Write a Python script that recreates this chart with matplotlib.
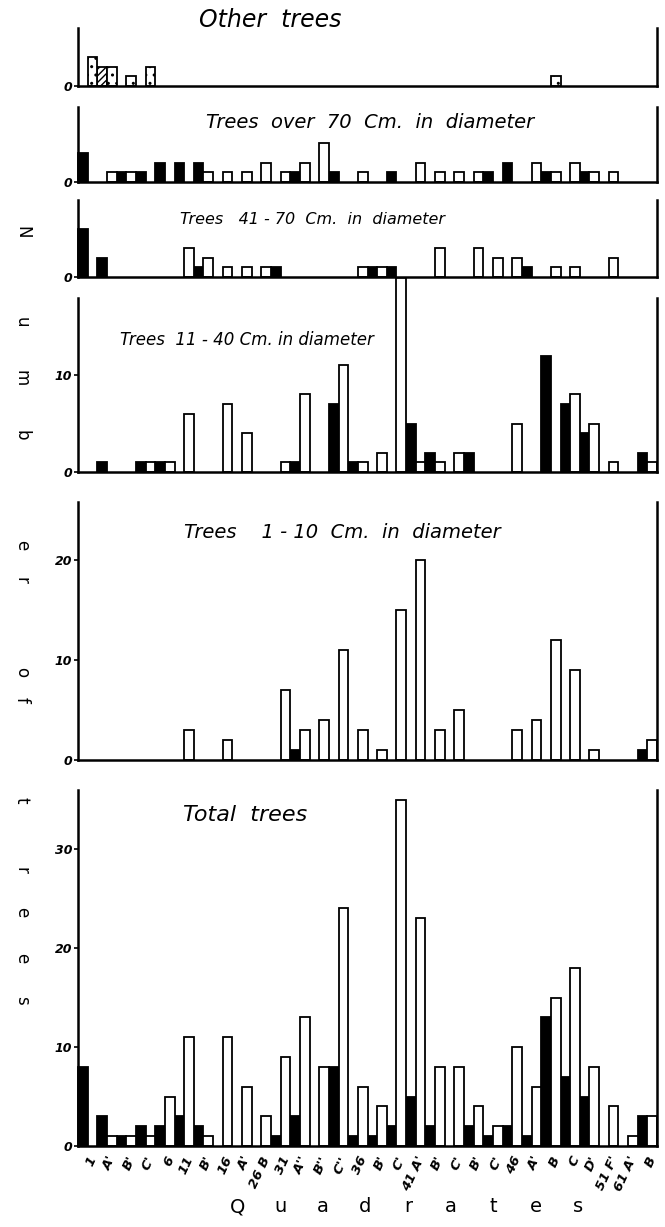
import matplotlib

matplotlib.use("Agg")
import matplotlib.pyplot as plt
import numpy as np

# quadrat labels, one per black/white pair of bars
quadrats = ["1", "A'", "B'", "C'", "6", "11", "B'", "16", "A'", "26 B",
            "31", "A''", "B''", "C''", "36", "B'", "C'", "41 A'", "B'", "C'",
            "B'", "C'", "46", "A'", "B", "C", "D'", "51 F'", "61 A'", "B"]

# counts, black bar = left of pair, white bar = right of pair
other_hatched = [0, 2, 0, 0, 0, 0, 0, 0, 0, 0, 0, 0, 0, 0, 0,
                 0, 0, 0, 0, 0, 0, 0, 0, 0, 0, 0, 0, 0, 0, 0]
other_dotted = [3, 2, 1, 2, 0, 0, 0, 0, 0, 0, 0, 0, 0, 0, 0,
                0, 0, 0, 0, 0, 0, 0, 0, 0, 1, 0, 0, 0, 0, 0]

over70_black = [3, 0, 1, 1, 2, 2, 2, 0, 0, 0, 0, 1, 0, 1, 0,
                0, 1, 0, 0, 0, 0, 1, 2, 0, 1, 0, 1, 0, 0, 0]
over70_white = [0, 1, 1, 0, 0, 0, 1, 1, 1, 2, 1, 2, 4, 0, 1,
                0, 0, 2, 1, 1, 1, 0, 0, 2, 1, 2, 1, 1, 0, 0]

d41_70_black = [5, 2, 0, 0, 0, 0, 1, 0, 0, 0, 1, 0, 0, 0, 0,
                1, 1, 0, 0, 0, 0, 0, 0, 1, 0, 0, 0, 0, 0, 0]
d41_70_white = [0, 0, 0, 0, 0, 3, 2, 1, 1, 1, 0, 0, 0, 0, 1,
                1, 0, 0, 3, 0, 3, 2, 2, 0, 1, 1, 0, 2, 0, 0]

d11_40_black = [0, 1, 0, 1, 1, 0, 0, 0, 0, 0, 0, 1, 0, 7, 1,
                0, 0, 5, 2, 0, 2, 0, 0, 0, 12, 7, 4, 0, 0, 2]
d11_40_white = [0, 0, 0, 1, 1, 6, 0, 7, 4, 0, 1, 8, 0, 11, 1,
                2, 20, 1, 1, 2, 0, 0, 5, 0, 0, 8, 5, 1, 0, 1]

d1_10_black = [0, 0, 0, 0, 0, 0, 0, 0, 0, 0, 0, 1, 0, 0, 0,
               0, 0, 0, 0, 0, 0, 0, 0, 0, 0, 0, 0, 0, 0, 1]
d1_10_white = [0, 0, 0, 0, 0, 3, 0, 2, 0, 0, 7, 3, 4, 11, 3,
               1, 15, 20, 3, 5, 0, 0, 3, 4, 12, 9, 1, 0, 0, 2]

total_black = [8, 3, 1, 2, 2, 3, 2, 0, 0, 0, 1, 3, 0, 8, 1,
               1, 2, 5, 2, 0, 2, 1, 2, 1, 13, 7, 5, 0, 0, 3]
total_white = [0, 1, 1, 1, 5, 11, 1, 11, 6, 3, 9, 13, 8, 24, 6,
               4, 35, 23, 8, 8, 4, 2, 10, 6, 15, 18, 8, 4, 1, 3]

W, H = 665, 1227
X0, X1 = 78, 657
FONT = "DejaVu Sans"

fig = plt.figure(figsize=(W / 100, H / 100), dpi=100)


def add_panel(y_top, y_base, px_per_unit):
    ax = fig.add_axes([X0 / W, 1 - y_base / H, (X1 - X0) / W, (y_base - y_top) / H])
    ax.set_xlim(0, 2 * len(quadrats))
    ax.set_ylim(0, (y_base - y_top) / px_per_unit)
    ax.spines["top"].set_visible(False)
    for s in ("left", "right", "bottom"):
        ax.spines[s].set_linewidth(1.8)
    ax.set_xticks([])
    ax.tick_params(axis="y", length=3, width=1.2, pad=1)
    return ax


def draw_pairs(ax, black, white, black_kw=None, white_kw=None):
    pos = np.arange(len(quadrats)) * 2
    black = np.asarray(black, dtype=float)
    white = np.asarray(white, dtype=float)
    bk = dict(color="black", edgecolor="black")
    wk = dict(color="white", edgecolor="black")
    bk.update(black_kw or {})
    wk.update(white_kw or {})
    mb, mw = black > 0, white > 0
    ax.bar(pos[mb] + 0.5, black[mb], width=1.0, linewidth=1.3, clip_on=False, **bk)
    ax.bar(pos[mw] + 1.5, white[mw], width=1.0, linewidth=1.3, clip_on=False, **wk)


def yticks(ax, ticks):
    ax.set_yticks(ticks)
    ax.set_yticklabels([str(t) for t in ticks], fontsize=9, fontstyle="italic",
                       fontweight="bold", family=FONT)


def title(x, y, text, size):
    fig.text(x / W, 1 - y / H, text, ha="center", va="center", fontsize=size,
             fontstyle="italic", family=FONT)


plt.rcParams["hatch.linewidth"] = 1.0

# Other trees
ax = add_panel(28, 86, 9.7)
draw_pairs(ax, other_hatched, other_dotted,
           black_kw=dict(color="white", hatch="/////"),
           white_kw=dict(hatch=".."))
yticks(ax, [0])
title(270, 20, "Other  trees", 17)

# over 70 cm
ax = add_panel(107, 182, 9.7)
draw_pairs(ax, over70_black, over70_white)
yticks(ax, [0])
title(370, 122, "Trees  over  70  Cm.  in  diameter", 14)

# 41-70 cm
ax = add_panel(200, 277, 9.7)
draw_pairs(ax, d41_70_black, d41_70_white)
yticks(ax, [0])
title(313, 220, "Trees   41 - 70  Cm.  in  diameter", 11.5)

# 11-40 cm
ax = add_panel(298, 472, 9.7)
draw_pairs(ax, d11_40_black, d11_40_white)
yticks(ax, [0, 10])
title(247, 340, "Trees  11 - 40 Cm. in diameter", 12)

# 1-10 cm
ax = add_panel(502, 760, 10.0)
draw_pairs(ax, d1_10_black, d1_10_white)
yticks(ax, [0, 10, 20])
title(342, 533, "Trees    1 - 10  Cm.  in  diameter", 14)

# Total trees
ax = add_panel(790, 1146, 9.9)
draw_pairs(ax, total_black, total_white)
yticks(ax, [0, 10, 20, 30])
title(245, 815, "Total  trees", 16)
ax.set_xticks(np.arange(len(quadrats)) * 2 + 1)
ax.set_xticklabels(quadrats, rotation=65, ha="right", va="top", rotation_mode="anchor",
                   fontsize=9.5, fontstyle="italic", fontweight="bold", family=FONT)
ax.tick_params(axis="x", length=0, pad=6)

# axis titles, hand-lettered with wide spacing
for ch, x in zip("Quadrates", np.linspace(238, 578, 9)):
    fig.text(x / W, 1 - 1207 / H, ch, ha="center", va="center", fontsize=14, family=FONT)

ylab = [("N", 232), ("u", 322), ("m", 378), ("b", 435), ("e", 545), ("r", 580),
        ("o", 672), ("f", 700), ("t", 800), ("r", 870), ("e", 912), ("e", 958), ("s", 1000)]
for ch, y in ylab:
    fig.text(22 / W, 1 - y / H, ch, ha="center", va="center", rotation=-90,
             fontsize=12, family=FONT)

fig.savefig("out.png", dpi=100)
